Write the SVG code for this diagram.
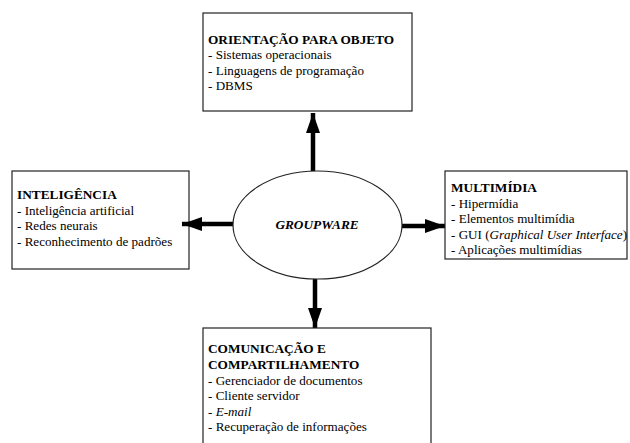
<svg xmlns="http://www.w3.org/2000/svg" width="630" height="443" viewBox="0 0 630 443">
<defs>
<style>
.box{fill:#fff;stroke:#222;stroke-width:1.2}
text{font-family:'Liberation Serif','Times New Roman','DejaVu Serif',serif;font-size:13.1px;fill:#000}
.b{font-weight:bold;font-size:13.3px}
.i{font-style:italic}
.conn{stroke:#000;stroke-width:4.5;fill:none}
</style>
<marker id="ah" markerUnits="userSpaceOnUse" markerWidth="22" markerHeight="16" refX="20" refY="7" orient="auto">
<path d="M0,0 L20,7 L0,14 Z" fill="#000"/>
</marker>
</defs>
<rect width="630" height="443" fill="#fff"/>
<g font-family="'Liberation Serif', 'Times New Roman', 'DejaVu Serif', serif" font-size="13.1">
<g id="inteligencia">
<rect class="box" x="12" y="171" width="177" height="98"/>
<text class="b" x="17" y="199">INTELIGÊNCIA</text>
<text x="17" y="215">- Inteligência artificial</text>
<text x="17" y="230">- Redes neurais</text>
<text x="17" y="246">- Reconhecimento de padrões</text>
</g>
<g id="connectors">
<line class="conn" x1="313" y1="171" x2="313" y2="113" marker-end="url(#ah)"/>
<line class="conn" x1="233" y1="224" x2="182" y2="224" marker-end="url(#ah)"/>
<line class="conn" x1="402" y1="226" x2="445" y2="226" marker-end="url(#ah)"/>
<line class="conn" x1="315" y1="279" x2="315" y2="328" marker-end="url(#ah)"/>
</g>
<g id="groupware">
<ellipse cx="317.5" cy="225" rx="84.5" ry="54" fill="#fff" stroke="#222" stroke-width="1.2"/>
<text class="b i" x="317" y="229" text-anchor="middle">GROUPWARE</text>
</g>
<g id="orientacao">
<rect class="box" x="203" y="13" width="209" height="98"/>
<text class="b" x="208" y="43.5">ORIENTAÇÃO PARA OBJETO</text>
<text x="208" y="59">- Sistemas operacionais</text>
<text x="208" y="75">- Linguagens de programação</text>
<text x="208" y="90">- DBMS</text>
</g>
<g id="multimidia">
<rect class="box" x="445" y="171" width="182" height="88"/>
<text class="b" x="451" y="192">MULTIMÍDIA</text>
<text x="451" y="208">- Hipermídia</text>
<text x="451" y="223">- Elementos multimídia</text>
<text x="451" y="239">- GUI (<tspan class="i">Graphical User Interface</tspan>)</text>
<text x="451" y="254">- Aplicações multimídias</text>
</g>
<g id="comunicacao">
<rect class="box" x="203" y="328" width="228" height="130"/>
<text class="b" x="208" y="353">COMUNICAÇÃO E</text>
<text class="b" x="208" y="369">COMPARTILHAMENTO</text>
<text x="208" y="385">- Gerenciador de documentos</text>
<text x="208" y="400">- Cliente servidor</text>
<text x="208" y="416">- <tspan class="i">E-mail</tspan></text>
<text x="208" y="431">- Recuperação de informações</text>
</g>
</g>
</svg>
